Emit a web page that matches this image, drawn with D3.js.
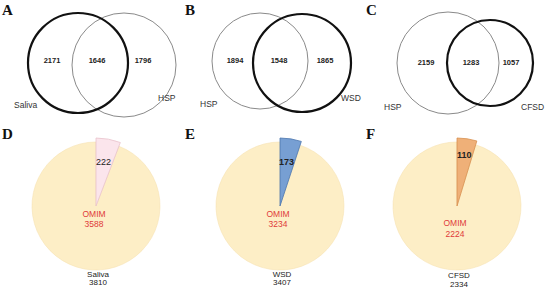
<!DOCTYPE html>
<html><head><meta charset="utf-8">
<script src="https://cdn.jsdelivr.net/npm/d3@7"></script>
<style>body{margin:0;background:#fff}svg{display:block}</style>
</head><body>
<svg id="c" width="546" height="290"></svg>
<script>
const panelLetters = ["A","B","C","D","E","F"];
const vennLeftNames = ["Saliva","HSP","HSP"];
const vennRightNames = ["HSP","WSD","CFSD"];
const vennLeftOnly = [2171,1894,2159];
const vennShared = [1646,1548,1283];
const vennRightOnly = [1796,1865,1057];
const vennThickSide = ["left","right","right"];
const pieNames = ["Saliva","WSD","CFSD"];
const pieTotals = [3810,3407,2334];
const pieOmim = [3588,3234,2224];
const pieOther = [222,173,110];
const sliceFill = ["#fbe5ec","#779fd3","#efb078"];
const sliceStroke = ["#e9c3cc","#4c76ad","#d8914f"];

const svg = d3.select("#c");
const font = "Arial, 'Liberation Sans', sans-serif";

// panel letters
const letterPos = [[2,15],[185,15],[366,15],[2,139],[185,139],[366,139]];
panelLetters.forEach((l,i)=>{
  svg.append("text").attr("x",letterPos[i][0]).attr("y",letterPos[i][1])
    .attr("font-family","'Liberation Serif','Times New Roman',serif")
    .attr("font-weight","bold").attr("font-size",15).attr("fill","#111").text(l);
});

// Venn layouts (geometry per panel)
const vennGeom = [
  {L:[78,63,50], R:[124,65,52], tx:[52,97,143], ty:63, ln:[14,108], rn:[158,101]},
  {L:[260,61,48], R:[302,63,49], tx:[235,279,325], ty:63, ln:[200,107], rn:[341,101]},
  {L:[448,63,51], R:[490,63,43], tx:[426,471,511], ty:65, ln:[384,110], rn:[521,110]}
];
vennGeom.forEach((g,i)=>{
  const grp = svg.append("g");
  const circ = [["left",g.L],["right",g.R]];
  circ.sort((a,b)=> (a[0]===vennThickSide[i]) - (b[0]===vennThickSide[i]));
  circ.forEach(([side,c])=>{
    const thick = side===vennThickSide[i];
    grp.append("circle").attr("cx",c[0]).attr("cy",c[1]).attr("r",c[2])
      .attr("fill","none").attr("stroke",thick?"#111":"#8a8a8a")
      .attr("stroke-width",thick?2.2:1);
  });
  const vals=[vennLeftOnly[i],vennShared[i],vennRightOnly[i]];
  vals.forEach((v,j)=>{
    grp.append("text").attr("x",g.tx[j]).attr("y",g.ty).attr("text-anchor","middle")
      .attr("font-family",font).attr("font-weight","bold").attr("font-size",7.5)
      .attr("fill","#222").text(v);
  });
  grp.append("text").attr("x",g.ln[0]).attr("y",g.ln[1]).attr("font-family",font)
    .attr("font-size",8.5).attr("fill","#333").text(vennLeftNames[i]);
  grp.append("text").attr("x",g.rn[0]).attr("y",g.rn[1]).attr("font-family",font)
    .attr("font-size",8.5).attr("fill","#333").text(vennRightNames[i]);
});

// Pies
const pieCenters = [[96,206],[280,206],[457,206]];
const R = 64;
const omimY = [[217,227],[217,227],[226,237]];
const otherLabelY = [165,165,158];
const pie = d3.pie().sort(null).value(d=>d.v).startAngle(0).endAngle(2*Math.PI);
pieNames.forEach((n,i)=>{
  const [cx,cy]=pieCenters[i];
  const g = svg.append("g").attr("transform",`translate(${cx},${cy})`);
  const arcs = pie([{k:"other",v:pieOther[i]},{k:"omim",v:pieOmim[i]}]);
  const big = d3.arc().innerRadius(0).outerRadius(R);
  const small = d3.arc().innerRadius(0).outerRadius(R+4);
  g.append("path").attr("d",big(arcs[1])).attr("fill","#fdeec6").attr("stroke","#f6e3b4").attr("stroke-width",0.6);
  g.append("path").attr("d",small(arcs[0])).attr("fill",sliceFill[i]).attr("stroke",sliceStroke[i]).attr("stroke-width",0.8);
  const a = (arcs[0].startAngle+arcs[0].endAngle)/2;
  const ly = otherLabelY[i]-cy;
  g.append("text").attr("x",Math.tan(a)*(-ly)).attr("y",ly).attr("text-anchor","middle")
    .attr("font-family",font).attr("font-size",9).attr("font-weight",i===0?"normal":"bold")
    .attr("fill","#222").text(pieOther[i]);
  g.append("text").attr("x",-2).attr("y",omimY[i][0]-cy).attr("text-anchor","middle")
    .attr("font-family",font).attr("font-size",8.5).attr("fill","#e03a3a").text("OMIM");
  g.append("text").attr("x",-2).attr("y",omimY[i][1]-cy).attr("text-anchor","middle")
    .attr("font-family",font).attr("font-size",8.5).attr("fill","#e03a3a").text(pieOmim[i]);
  const by = i===2?[278,287]:[277,285];
  svg.append("text").attr("x",cx+2).attr("y",by[0]).attr("text-anchor","middle")
    .attr("font-family",font).attr("font-size",8).attr("fill","#222").text(n);
  svg.append("text").attr("x",cx+2).attr("y",by[1]).attr("text-anchor","middle")
    .attr("font-family",font).attr("font-size",8).attr("fill","#222").text(pieTotals[i]);
});
</script>
</body></html>
